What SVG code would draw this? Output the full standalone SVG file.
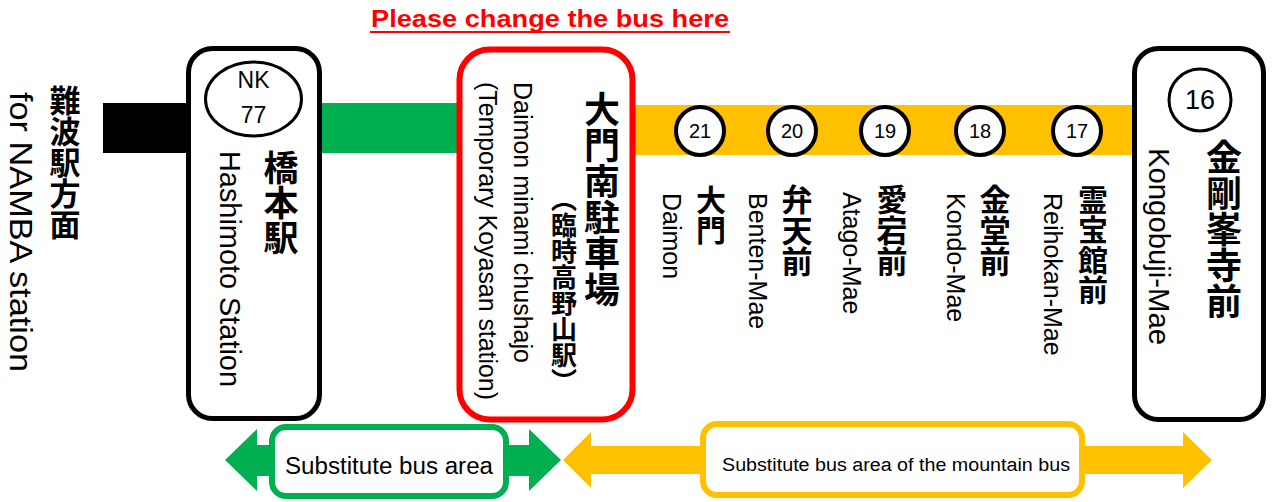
<svg xmlns="http://www.w3.org/2000/svg" width="1273" height="502" viewBox="0 0 1273 502">
<style>
.lat{font-family:"Liberation Sans",Arial,sans-serif;fill:#000}
.rot{font-family:"Liberation Sans",Arial,sans-serif;fill:#000;dominant-baseline:central}
.vj{font-family:"Noto Sans CJK JP","Noto Sans CJK SC",sans-serif;font-weight:bold;writing-mode:vertical-rl;fill:#000}
.box{fill:#fff;stroke:#000;stroke-width:5}
.stn{fill:#fff;stroke:#000;stroke-width:4}
.num{font-family:"Liberation Sans",Arial,sans-serif;font-size:20px;text-anchor:middle;fill:#000}
</style>
<rect width="1273" height="502" fill="#fff"/>
<g id="connectors">
<rect x="103" y="103" width="90" height="50" fill="#000"/>
<rect x="315" y="103" width="150" height="50" fill="#00B050"/>
<rect x="628" y="105" width="510" height="50" fill="#FFC000"/>
</g>
<g id="title">
<text x="550" y="27" class="lat" style="font-size:24px;font-weight:bold;fill:#FF0000" text-anchor="middle" textLength="358" lengthAdjust="spacingAndGlyphs">Please change the bus here</text>
<rect x="370" y="31" width="360" height="2" fill="#FF0000"/>
</g>
<g id="namba">
<text x="65" y="85" class="vj" style="font-size:31px">難波駅方面</text>
<text class="rot" transform="translate(21,92) rotate(90)" style="font-size:32px" textLength="280" lengthAdjust="spacingAndGlyphs">for NAMBA station</text>
</g>
<g id="hashimoto">
<rect x="188.5" y="48.5" width="131" height="370" rx="24" class="box"/>
<ellipse cx="253.5" cy="99" rx="48" ry="37" fill="#fff" stroke="#000" stroke-width="3"/>
<text x="253.5" y="88" class="lat" style="font-size:23px" text-anchor="middle">NK</text>
<text x="253.5" y="123" class="lat" style="font-size:23px" text-anchor="middle">77</text>
<text x="281" y="150" class="vj" style="font-size:35px">橋本駅</text>
<text class="rot" transform="translate(230,151) rotate(90)" style="font-size:29px" textLength="236" lengthAdjust="spacingAndGlyphs">Hashimoto Station</text>
</g>
<g id="daimon-minami">
<rect x="459.5" y="49.5" width="173" height="370" rx="30" fill="#fff" stroke="#FF0000" stroke-width="6"/>
<text x="602" y="91" class="vj" style="font-size:36px">大門南駐車場</text>
<text x="564" y="186" class="vj" style="font-size:26px">（臨時高野山駅）</text>
<text class="rot" transform="translate(523,82) rotate(90)" style="font-size:25px" textLength="281" lengthAdjust="spacingAndGlyphs">Daimon minami chushajo</text>
<text class="rot" transform="translate(488,82) rotate(90)" style="font-size:25px" textLength="318" lengthAdjust="spacingAndGlyphs">(Temporary Koyasan station)</text>
</g>
<g id="st21">
<circle cx="700" cy="131" r="24" class="stn"/>
<text x="700" y="138" class="num">21</text>
<text x="711" y="185" class="vj" style="font-size:30px">大門</text>
<text class="rot" transform="translate(672,193) rotate(90)" style="font-size:25px">Daimon</text>
</g>
<g id="st20">
<circle cx="792" cy="131" r="24" class="stn"/>
<text x="792" y="138" class="num">20</text>
<text x="797" y="184" class="vj" style="font-size:31px">弁天前</text>
<text class="rot" transform="translate(758,193) rotate(90)" style="font-size:25px">Benten-Mae</text>
</g>
<g id="st19">
<circle cx="885" cy="131" r="24" class="stn"/>
<text x="885" y="138" class="num">19</text>
<text x="892" y="184" class="vj" style="font-size:31px">愛宕前</text>
<text class="rot" transform="translate(852,192) rotate(90)" style="font-size:25px">Atago-Mae</text>
</g>
<g id="st18">
<circle cx="980" cy="131" r="24" class="stn"/>
<text x="980" y="138" class="num">18</text>
<text x="995" y="184" class="vj" style="font-size:31px">金堂前</text>
<text class="rot" transform="translate(956,193) rotate(90)" style="font-size:25px">Kondo-Mae</text>
</g>
<g id="st17">
<circle cx="1077" cy="131" r="24" class="stn"/>
<text x="1077" y="138" class="num">17</text>
<text x="1093" y="185" class="vj" style="font-size:30px">霊宝館前</text>
<text class="rot" transform="translate(1053,193) rotate(90)" style="font-size:25px">Reihokan-Mae</text>
</g>
<g id="kongobuji">
<rect x="1134.5" y="48.5" width="129" height="371" rx="24" class="box"/>
<circle cx="1200" cy="100" r="31" fill="#fff" stroke="#000" stroke-width="3"/>
<text x="1200" y="109" class="lat" style="font-size:27px" text-anchor="middle">16</text>
<text x="1224" y="139" class="vj" style="font-size:36px">金剛峯寺前</text>
<text class="rot" transform="translate(1159,148) rotate(90)" style="font-size:29px" textLength="197" lengthAdjust="spacingAndGlyphs">Kongobuji-Mae</text>
</g>
<g id="green-area">
<polygon points="225,460 257,429 257,445 529,445 529,429 561,460 529,491 529,476 257,476 257,491" fill="#00B050"/>
<rect x="272" y="427" width="234" height="69" rx="14" fill="#fff" stroke="#00B050" stroke-width="6"/>
<text x="389" y="474" class="lat" style="font-size:23px" text-anchor="middle" textLength="208" lengthAdjust="spacingAndGlyphs">Substitute bus area</text>
</g>
<g id="yellow-area">
<polygon points="563,460 591,432 591,446 1183,446 1183,432 1212,460 1183,488 1183,474 591,474 591,488" fill="#FFC000"/>
<rect x="703" y="424" width="379" height="71" rx="14" fill="#fff" stroke="#FFC000" stroke-width="6"/>
<text x="896" y="471" class="lat" style="font-size:18px" text-anchor="middle" textLength="348" lengthAdjust="spacingAndGlyphs">Substitute bus area of the mountain bus</text>
</g>
</svg>
